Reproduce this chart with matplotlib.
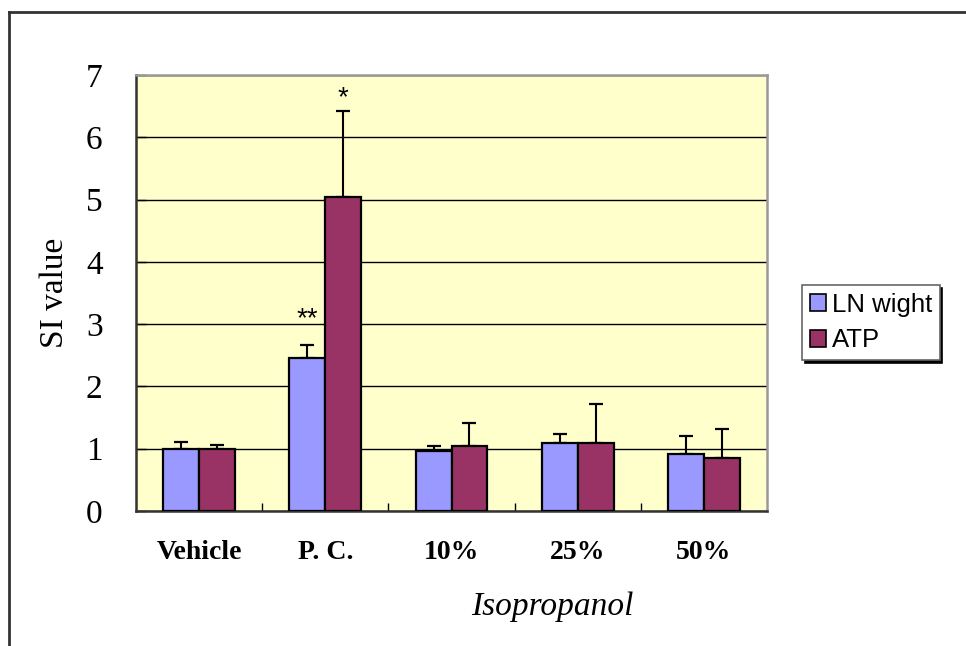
import numpy as np
import matplotlib
matplotlib.use("Agg")
import matplotlib.pyplot as plt
from matplotlib.patches import Patch
from matplotlib.lines import Line2D


# data
groups = ["Vehicle", "P. C.", "10%", "25%", "50%"]
ln_weight = [1.00, 2.45, 0.97, 1.09, 0.91]
ln_weight_err = [0.11, 0.21, 0.07, 0.15, 0.30]
atp = [1.00, 5.04, 1.05, 1.09, 0.85]
atp_err = [0.06, 1.38, 0.36, 0.63, 0.46]
series_names = ["LN wight", "ATP"]

blue = "#9999FF"
purple = "#993366"
serif = ["Liberation Serif", "DejaVu Serif"]
sans = ["Liberation Sans", "DejaVu Sans"]

fig = plt.figure(figsize=(9.66, 6.46), dpi=100)
ax = fig.add_axes([136 / 966, 1 - 511 / 646, 631 / 966, 436 / 646])
ax.set_facecolor("#FFFFCC")

x = np.arange(len(groups))
w = 0.285

zeros = np.zeros(len(groups))
ax.bar(x - w / 2, ln_weight, w, color=blue, edgecolor="black", linewidth=1.6, zorder=3)
ax.bar(x + w / 2, atp, w, color=purple, edgecolor="black", linewidth=1.6, zorder=3)
ax.errorbar(x - w / 2, ln_weight, yerr=[zeros, ln_weight_err], fmt="none",
            ecolor="black", elinewidth=1.5, capsize=4.7, capthick=1.6, zorder=2)
ax.errorbar(x + w / 2, atp, yerr=[zeros, atp_err], fmt="none",
            ecolor="black", elinewidth=1.5, capsize=4.7, capthick=1.6, zorder=2)

# significance marks
ax.text(x[1] - w / 2, 3.08, "**", ha="center", va="center", fontsize=20, family=sans)
ax.text(x[1] + w / 2, 6.62, "*", ha="center", va="center", fontsize=20, family=sans)

ax.set_xlim(-0.5, len(groups) - 0.5)
ax.set_ylim(0, 7)
ax.set_yticks(range(0, 8))
ax.yaxis.grid(True, color="black", linewidth=1.0, zorder=0)
ax.set_axisbelow(True)

ax.set_xticks(x)
ax.set_xticklabels(groups, fontsize=20, fontweight="bold", family=serif)
ax.set_xticks(np.arange(0.5, len(groups) - 0.5), minor=True)
ax.tick_params(axis="x", which="major", length=0, pad=21)
ax.tick_params(axis="x", which="minor", direction="in", length=6, width=1)
ax.tick_params(axis="y", direction="in", length=7, width=1, pad=24)
for lab in ax.get_yticklabels():
    lab.set_family(serif)
    lab.set_fontsize(24)

for s in ["left", "bottom"]:
    ax.spines[s].set_color("#333333")
    ax.spines[s].set_linewidth(1.8)
for s in ["top", "right"]:
    ax.spines[s].set_color("#999999")
    ax.spines[s].set_linewidth(1.8)

fig.text(55 / 966, 1 - 293 / 646, "SI value", rotation=90, ha="center", va="center",
         fontsize=24, family=serif)
fig.text(552 / 966, 1 - 607 / 646, "Isopropanol", ha="center", va="center",
         fontsize=24, style="italic", family=serif)

handles = [Patch(facecolor=blue, edgecolor="black", linewidth=1.2),
           Patch(facecolor=purple, edgecolor="black", linewidth=1.2)]
leg = fig.legend(handles, series_names, loc="upper left",
                 bbox_to_anchor=(802 / 966, 1 - 285 / 646),
                 prop={"family": sans, "size": 18.5}, frameon=True, fancybox=False,
                 handlelength=0.65, handleheight=0.65, handletextpad=0.2,
                 labelspacing=0.45, borderpad=0.3, borderaxespad=0,
                 shadow={"color": "black", "alpha": 1})
leg.get_frame().set_edgecolor("#666666")
leg.get_frame().set_linewidth(1.2)

# outer chart frame
fig.add_artist(Line2D([9 / 966, 9 / 966], [0, 1 - 12 / 646], color="#333333", linewidth=2))
fig.add_artist(Line2D([9 / 966, 1], [1 - 12 / 646, 1 - 12 / 646], color="#333333", linewidth=2))

fig.savefig("out.png", dpi=100)
